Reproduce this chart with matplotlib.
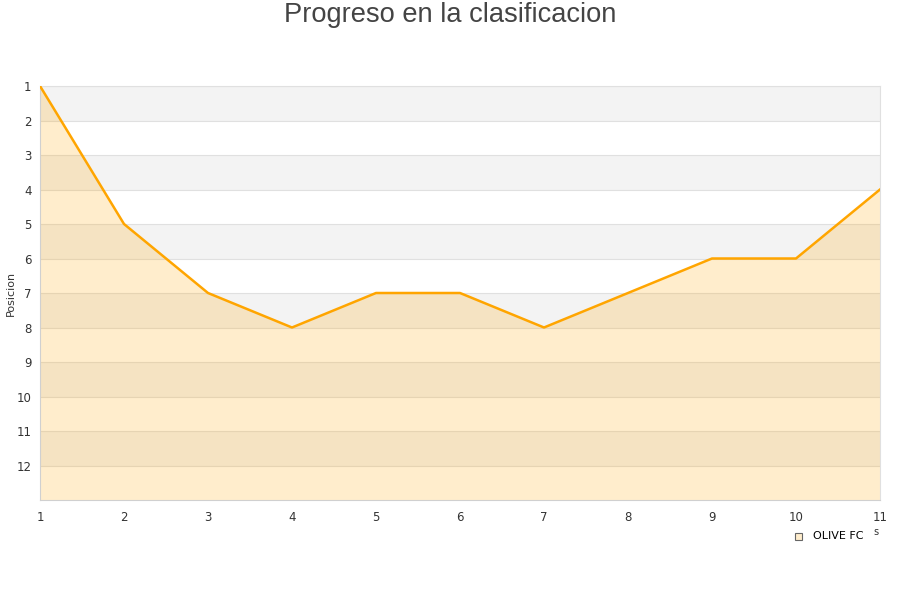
import matplotlib
matplotlib.use("Agg")
from matplotlib import pyplot as plt
from matplotlib.patches import Rectangle

jornadas = [1, 2, 3, 4, 5, 6, 7, 8, 9, 10, 11]
posicion = [1, 5, 7, 8, 7, 7, 8, 7, 6, 6, 4]
y_ticks = list(range(1, 13))
equipo = "OLIVE FC"

fig = plt.figure(figsize=(9, 6), dpi=100)
ax = fig.add_axes([40 / 900, 1 - 500 / 600, 840 / 900, 414 / 600])

# franjas alternas
for i in range(1, 13, 2):
    ax.axhspan(i, i + 1, color="#f3f3f3", zorder=0, lw=0)
for t in y_ticks:
    ax.axhline(t, color="#e0e0e0", lw=0.8, zorder=1)

ax.fill_between(jornadas, posicion, 13, color="#ffa500", alpha=0.2, lw=0, zorder=2)
ax.plot(jornadas, posicion, color="#ffa500", lw=1.8, zorder=3)

ax.set_xlim(1, 11)
ax.set_ylim(13, 1)
ax.set_xticks(jornadas)
ax.set_yticks(y_ticks)
ax.tick_params(axis="both", length=0, labelsize=8.5, colors="#333333", pad=8)
ax.tick_params(axis="y", pad=6)
for s in ["left", "bottom"]:
    ax.spines[s].set_color("#d0d0d0")
for s in ["top", "right"]:
    ax.spines[s].set_color("#e0e0e0")

fig.text(11 / 900, 1 - 293 / 600, "Posicion", rotation=90, ha="center", va="center",
         fontsize=8, color="#333333")

fig.text(0.5, 1 - 15 / 600, "Progreso en la clasificacion", ha="center", va="center",
         fontsize=19.6, color="#444444", family="Liberation Sans")

# leyenda
fig.patches.append(Rectangle((795 / 900, 1 - 540 / 600), 7 / 900, 7 / 600,
                             transform=fig.transFigure, facecolor="#ffedcc",
                             edgecolor="#666666", lw=0.8))
fig.text(813 / 900, 1 - 536 / 600, equipo, ha="left", va="center", fontsize=8, color="#000000")
fig.text(876 / 900, 1 - 532 / 600, "s", ha="center", va="center", fontsize=7, color="#333333")

plt.savefig("out.png")
